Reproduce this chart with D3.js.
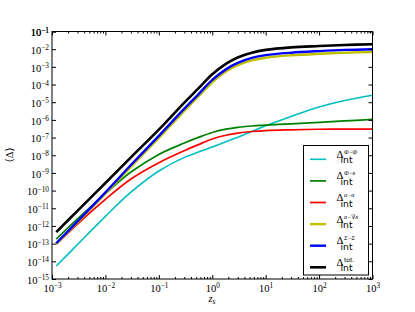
<!DOCTYPE html>
<html>
<head>
<meta charset="utf-8">
<script src="https://cdn.jsdelivr.net/npm/d3@7"></script>
<style>
  body { margin: 0; background: #fff; }
  svg { display: block; }
</style>
</head>
<body>
<div id="chart"></div>
<script>
// redshift grid of the curves
const zs = [0.0012, 0.003, 0.01, 0.03, 0.1, 0.3, 0.55, 1, 1.8, 3, 5.5, 10, 30, 100, 300, 1000];

// series values
const phiPhi = [5.4e-15, 8.9e-14, 3.5e-12, 8.1e-11, 1.29e-9, 7.6e-9, 1.51e-8, 2.95e-8, 5.8e-8, 1.05e-7, 2.2e-7, 4.7e-7, 1.58e-6, 5.4e-6, 1.26e-5, 2.5e-5];
const phiKappa = [1.8e-13, 2.5e-12, 6.8e-11, 1.12e-9, 1.12e-8, 4.9e-8, 1.02e-7, 1.95e-7, 3.0e-7, 3.8e-7, 4.5e-7, 5.0e-7, 6.0e-7, 7.2e-7, 8.7e-7, 1.07e-6];
const alphaAlpha = [9.3e-14, 1.29e-12, 3.2e-11, 4.5e-10, 3.8e-9, 1.82e-8, 4.0e-8, 8.3e-8, 1.35e-7, 1.8e-7, 2.2e-7, 2.5e-7, 2.75e-7, 2.95e-7, 3.0e-7, 3.0e-7];
const alphaGradKappa = [1.0e-13, 1.6e-12, 6.8e-11, 2.2e-9, 9.5e-8, 3.2e-6, 2.1e-5, 1.35e-4, 5.4e-4, 1.23e-3, 2.3e-3, 3.3e-3, 4.5e-3, 5.5e-3, 6.3e-3, 6.9e-3];
const sigmaSigma = [1.05e-13, 1.8e-12, 7.9e-11, 2.8e-9, 1.26e-7, 4.3e-6, 2.8e-5, 1.82e-4, 7.2e-4, 1.66e-3, 3.2e-3, 4.6e-3, 6.3e-3, 7.8e-3, 9.1e-3, 1.0e-2];
const total = [4.5e-13, 7.2e-12, 2.7e-10, 7.6e-9, 2.8e-7, 9.5e-6, 6.0e-5, 3.8e-4, 1.48e-3, 3.4e-3, 6.3e-3, 9.1e-3, 1.26e-2, 1.51e-2, 1.74e-2, 1.9e-2];

const seriesNames = ["Φ−Φ", "Φ−κ", "α−α", "α−∇κ", "Σ−Σ", "tot."];
const seriesColors = ["#00bfbf", "#008000", "#ff0000", "#bfbf00", "#0000ff", "#000000"];
const seriesWidths = [1.6, 1.7, 1.7, 2.4, 2.4, 2.6];
const seriesValues = [phiPhi, phiKappa, alphaAlpha, alphaGradKappa, sigmaSigma, total];

const WIDTH = 415, HEIGHT = 312;
const LEFT = 52, RIGHT = 372.5, TOP = 31.5, BOTTOM = 279;
const SERIF = "'Liberation Serif', 'DejaVu Serif', serif";
const SANS = "'DejaVu Sans', sans-serif";

const svg = d3.select("#chart").append("svg")
  .attr("width", WIDTH)
  .attr("height", HEIGHT);

const x = d3.scaleLog().domain([1e-3, 1e3]).range([LEFT, RIGHT]);
const y = d3.scaleLog().domain([1e-15, 1e-1]).range([BOTTOM, TOP]);

const xMajor = d3.range(-3, 4).map(e => Math.pow(10, e));
const yMajor = d3.range(-15, 0).map(e => Math.pow(10, e));
const xMinor = x.ticks().filter(t => Math.abs(Math.log10(t) - Math.round(Math.log10(t))) > 1e-6);

// clip for the curves
svg.append("clipPath").attr("id", "clip")
  .append("rect")
  .attr("x", LEFT).attr("y", TOP)
  .attr("width", RIGHT - LEFT).attr("height", BOTTOM - TOP);

const line = d3.line()
  .x((d, i) => x(zs[i]))
  .y(d => y(d))
  .curve(d3.curveCatmullRom.alpha(0.5));

const curves = svg.append("g").attr("clip-path", "url(#clip)");
seriesValues.forEach((vals, k) => {
  curves.append("path")
    .datum(vals)
    .attr("fill", "none")
    .attr("stroke", seriesColors[k])
    .attr("stroke-width", seriesWidths[k])
    .attr("d", line);
});

// put 10^n labels on a tick group
function powerLabels(g) {
  g.selectAll(".tick text").each(function (d) {
    const t = d3.select(this);
    const e = Math.round(Math.log10(d));
    t.text(null);
    t.append("tspan").text("10");
    t.append("tspan")
      .attr("dy", "-0.5em")
      .attr("font-size", "7.3px")
      .text(e < 0 ? "−" + (-e) : String(e));
  });
}

function styleAxis(g) {
  g.select(".domain").remove();
  g.selectAll(".tick line").attr("stroke", "#000").attr("stroke-width", 1);
  g.attr("font-family", SERIF).attr("font-size", "10.5px");
}

// bottom axis
const axBottom = svg.append("g").attr("transform", `translate(0,${BOTTOM})`);
axBottom.call(d3.axisBottom(x).tickValues(xMajor).tickSizeInner(-4).tickSizeOuter(0).tickPadding(12));
styleAxis(axBottom);
axBottom.selectAll(".tick text").attr("dy", 0).attr("y", 13);
powerLabels(axBottom);
axBottom.append("g").call(d3.axisBottom(x).tickValues(xMinor).tickSizeInner(-2).tickSizeOuter(0).tickFormat(""))
  .call(styleAxis);

// top axis
const axTop = svg.append("g").attr("transform", `translate(0,${TOP})`);
axTop.call(d3.axisTop(x).tickValues(xMajor).tickSizeInner(-4).tickSizeOuter(0).tickFormat(""));
styleAxis(axTop);
axTop.append("g").call(d3.axisTop(x).tickValues(xMinor).tickSizeInner(-2).tickSizeOuter(0).tickFormat(""))
  .call(styleAxis);

// left axis
const axLeft = svg.append("g").attr("transform", `translate(${LEFT},0)`);
axLeft.call(d3.axisLeft(y).tickValues(yMajor.concat([1e-1])).tickSizeInner(-4).tickSizeOuter(0).tickPadding(3));
styleAxis(axLeft);
axLeft.selectAll(".tick text").attr("x", -3).attr("dy", "0.4em");
powerLabels(axLeft);

// right axis
const axRight = svg.append("g").attr("transform", `translate(${RIGHT},0)`);
axRight.call(d3.axisRight(y).tickValues(yMajor).tickSizeInner(-4).tickSizeOuter(0).tickFormat(""));
styleAxis(axRight);

// frame
svg.append("rect")
  .attr("x", LEFT).attr("y", TOP)
  .attr("width", RIGHT - LEFT).attr("height", BOTTOM - TOP)
  .attr("fill", "none").attr("stroke", "#000").attr("stroke-width", 1);

// axis titles
const xt = svg.append("text")
  .attr("x", 212).attr("y", 302)
  .attr("text-anchor", "middle")
  .attr("font-family", SERIF)
  .attr("font-size", "10.5px");
xt.append("tspan").attr("font-style", "italic").text("z");
xt.append("tspan").attr("font-style", "italic").attr("font-size", "7.5px").attr("dy", "0.3em").text("s");

svg.append("text")
  .attr("transform", "translate(13,155) rotate(-90)")
  .attr("text-anchor", "middle")
  .attr("font-family", SERIF)
  .attr("font-size", "10.5px")
  .text("⟨Δ⟩");

// legend
const legend = svg.append("g");
legend.append("rect")
  .attr("x", 303.5).attr("y", 145.5)
  .attr("width", 65).attr("height", 129.5)
  .attr("fill", "#fff").attr("stroke", "#000").attr("stroke-width", 1);

seriesNames.forEach((name, k) => {
  const ry = 159.3 + k * 21.6;
  legend.append("line")
    .attr("x1", 310).attr("x2", 326)
    .attr("y1", ry).attr("y2", ry)
    .attr("stroke", seriesColors[k])
    .attr("stroke-width", seriesWidths[k]);
  // delta with superscript pair and "int" subscript, one text element
  const t = legend.append("text")
    .attr("x", 336.5).attr("y", ry - 1.5)
    .attr("font-family", SERIF).attr("font-size", "10.8px");
  t.append("tspan").text("Δ");
  t.append("tspan")
    .attr("x", 344).attr("y", ry - 5.5)
    .attr("font-family", name === "tot." ? SANS : SERIF)
    .attr("font-style", name === "tot." ? "normal" : "italic")
    .attr("font-size", "6px")
    .text(name);
  t.append("tspan")
    .attr("x", 340.5).attr("y", ry + 4)
    .attr("font-family", SANS).attr("font-size", "9.2px")
    .text("int");
});
</script>
</body>
</html>
